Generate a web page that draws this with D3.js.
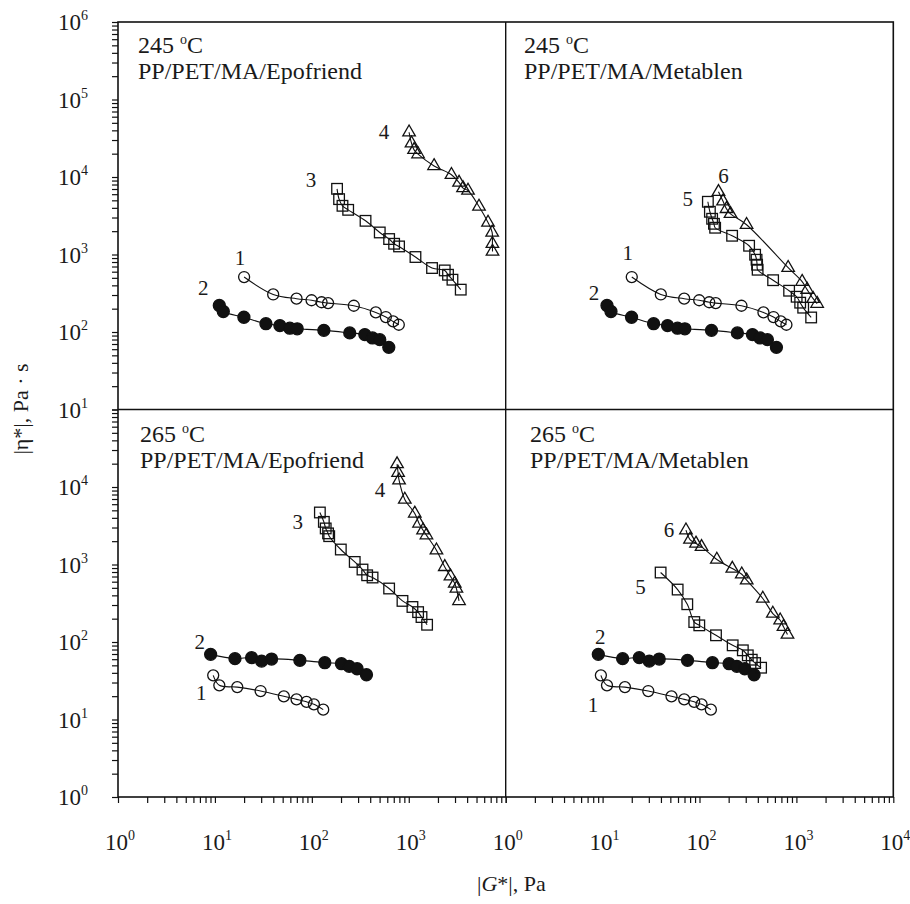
<!DOCTYPE html>
<html>
<head>
<meta charset="utf-8">
<script src="https://cdn.jsdelivr.net/npm/d3@7"></script>
<style>
  body { margin: 0; background: #fff; }
  svg text { font-family: "Liberation Serif", "Times New Roman", serif; fill: #1a1a1a; }
</style>
</head>
<body>
<svg id="chart" width="910" height="904"></svg>
<script>
// 245 C, curves 1 and 2 (same in both top panels)
const g245c1 = [20.0, 39.9, 69.5, 99.3, 126, 147, 271, 457, 580, 689, 789];
const eta245c1 = [512, 305, 269, 257, 242, 236, 218, 179, 156, 137, 124];
const g245c2 = [11.1, 12.2, 19.9, 33.6, 46.8, 59.3, 70.6, 133, 246, 352, 422, 502, 622];
const eta245c2 = [220, 184, 155, 128, 121, 112, 110, 105, 97.3, 92.6, 83.8, 79.7, 63.4];
// 245 C, Epofriend
const g245c3 = [182, 191, 207, 237, 358, 502, 627, 706, 794, 1172, 1738, 2350, 2540, 2822, 3437];
const eta245c3 = [7040, 5180, 4250, 3770, 2720, 1925, 1583, 1376, 1271, 928, 669, 623, 548, 473, 352];
const g245c4 = [1007, 1067, 1135, 1247, 1824, 2756, 3302, 3630, 4085, 5304, 6571, 7250, 7290, 7310];
const eta245c4 = [37800, 27300, 22400, 19700, 13900, 10700, 8480, 7190, 6690, 4170, 2590, 1925, 1376, 1095];
// 245 C, Metablen
const g245c5 = [122, 128, 135, 141, 145, 217, 325, 375, 388, 393, 398, 575, 841, 1006, 1094, 1175, 1420];
const eta245c5 = [4790, 3560, 2890, 2490, 2215, 1745, 1297, 993, 856, 738, 636, 466, 341, 285, 239, 206, 154];
const g245c6 = [157, 175, 190, 209, 306, 822, 1146, 1291, 1489, 1637];
const eta245c6 = [6440, 4850, 3880, 3350, 2420, 675, 446, 352, 269, 232];

// 265 C, curves 1 and 2
const g265c1 = [9.6, 11.1, 17.0, 29.6, 51.4, 69.5, 88.1, 105, 131];
const eta265c1 = [37.1, 27.6, 26.2, 23.3, 19.9, 18.2, 16.9, 15.7, 13.4];
const g265c2 = [9.03, 16.1, 23.9, 30.3, 38.4, 75.2, 136, 202, 243, 293, 366];
const eta265c2 = [69.3, 61.0, 62.8, 56.7, 60.3, 58.0, 54.1, 52.5, 48.5, 45.2, 37.8];
// 265 C, Epofriend
const g265c3 = [121, 133, 139, 147, 151, 199, 277, 333, 372, 423, 627, 861, 1091, 1248, 1353, 1545];
const eta265c3 = [4690, 3550, 2920, 2520, 2320, 1561, 1079, 861, 726, 679, 490, 339, 283, 243, 210, 167];
const g265c4 = [757, 776, 794, 910, 1153, 1277, 1404, 1521, 1930, 2352, 2692, 2980, 3100, 3300];
const eta265c4 = [19750, 15260, 12230, 6910, 4560, 3390, 2770, 2390, 1529, 931, 705, 567, 490, 339];
// 265 C, Metablen
const g265c5 = [39.7, 59.5, 74.8, 88.3, 99.5, 148, 220, 280, 315, 346, 375, 432];
const eta265c5 = [788, 475, 307, 181, 164, 122, 90.6, 78.1, 67.3, 59.1, 53.5, 46.6];
const g265c6 = [72.5, 79.8, 92, 105, 151, 218, 273, 307, 450, 571, 680, 736, 809];
const eta265c6 = [2770, 2100, 1870, 1690, 1160, 887, 749, 627, 364, 233, 191, 157, 125];

// tick label exponents
const yTopExps = [6, 5, 4, 3, 2, 1];
const yBotExps = [4, 3, 2, 1, 0];
const xLeftExps = [0, 1, 2, 3];
const xRightExps = [0, 1, 2, 3, 4];

const svg = d3.select('#chart');
const ink = '#111';

// frame
const L = 118, M = 505.7, R = 893.3, T = 22, H = 409.5, B = 797;

const xLeft = d3.scaleLog().domain([1, 1e4]).range([L, M]);
const xRight = d3.scaleLog().domain([1, 1e4]).range([M, R]);
const yTop = d3.scaleLog().domain([10, 1e6]).range([H, T]);
const yBot = d3.scaleLog().domain([1, 1e5]).range([B, H]);

function logTicks(lo, hi) {
    var v = [];
    for (let e = lo; e < hi; e++)
        for (let k = 1; k < 10; k++) v.push(k * Math.pow(10, e));
    v.push(Math.pow(10, hi));
    return v;
}

function tickAxis(axis, tr) {
    var g = svg.append('g').attr('transform', tr)
        .call(axis.tickSize(6).tickSizeOuter(0).tickFormat(''));
    g.select('.domain').remove();
    g.selectAll('.tick line').attr('stroke', ink).attr('stroke-width', 1.2);
}

tickAxis(d3.axisLeft(yTop).tickValues(logTicks(1, 6)), `translate(${L},0)`);
tickAxis(d3.axisLeft(yBot).tickValues(logTicks(0, 5)), `translate(${L},0)`);
tickAxis(d3.axisBottom(xLeft).tickValues(logTicks(0, 4)), `translate(0,${B})`);
tickAxis(d3.axisBottom(xRight).tickValues(logTicks(0, 4)), `translate(0,${B})`);

// box and dividers
svg.append('rect').attr('x', L).attr('y', T).attr('width', R - L).attr('height', B - T)
    .attr('fill', 'none').attr('stroke', ink).attr('stroke-width', 1.6);
svg.append('line').attr('x1', M).attr('x2', M).attr('y1', T).attr('y2', B)
    .attr('stroke', ink).attr('stroke-width', 1.4);
svg.append('line').attr('x1', L).attr('x2', R).attr('y1', H).attr('y2', H)
    .attr('stroke', ink).attr('stroke-width', 1.4);

function pow10(x, y, e, anchor) {
    var t = svg.append('text').attr('x', x).attr('y', y)
        .attr('text-anchor', anchor).style('font-size', '23px');
    t.append('tspan').text('10');
    t.append('tspan').attr('dy', -10).style('font-size', '14px').text(e);
}

yTopExps.forEach(e => pow10(88, yTop(Math.pow(10, e)) + 8, e, 'end'));
yBotExps.forEach(e => pow10(88, yBot(Math.pow(10, e)) + 8, e, 'end'));
xLeftExps.forEach(e => pow10(xLeft(Math.pow(10, e)) + 2, 850, e, 'middle'));
xRightExps.forEach(e => pow10(xRight(Math.pow(10, e)) + 2, 850, e, 'middle'));

// axis titles
svg.append('text')
    .attr('transform', 'translate(28,409) rotate(-90)')
    .attr('text-anchor', 'middle')
    .style('font-size', '22px')
    .text('|η*|, Pa · s');

var xt = svg.append('text').attr('x', 477).attr('y', 891).style('font-size', '22px');
xt.append('tspan').text('|');
xt.append('tspan').style('font-style', 'italic').text('G');
xt.append('tspan').text('*|, Pa');

// panels
const panels = [
    { x: xLeft, y: yTop, temp: '245', name: 'PP/PET/MA/Epofriend', tx: 138, ty: 53,
      series: [
        { g: g245c1, eta: eta245c1, mark: 'open', label: '1', dx: -4, dy: -19 },
        { g: g245c2, eta: eta245c2, mark: 'fill', label: '2', dx: -16, dy: -18 },
        { g: g245c3, eta: eta245c3, mark: 'square', label: '3', dx: -26, dy: -9 },
        { g: g245c4, eta: eta245c4, mark: 'tri', label: '4', dx: -25, dy: -1 }
      ] },
    { x: xRight, y: yTop, temp: '245', name: 'PP/PET/MA/Metablen', tx: 524, ty: 53,
      series: [
        { g: g245c1, eta: eta245c1, mark: 'open', label: '1', dx: -4, dy: -24 },
        { g: g245c2, eta: eta245c2, mark: 'fill', label: '2', dx: -13, dy: -13 },
        { g: g245c5, eta: eta245c5, mark: 'square', label: '5', dx: -20, dy: -3 },
        { g: g245c6, eta: eta245c6, mark: 'tri', label: '6', dx: 5, dy: -16 }
      ] },
    { x: xLeft, y: yBot, temp: '265', name: 'PP/PET/MA/Epofriend', tx: 140, ty: 442,
      series: [
        { g: g265c1, eta: eta265c1, mark: 'open', label: '1', dx: -12, dy: 17 },
        { g: g265c2, eta: eta265c2, mark: 'fill', label: '2', dx: -11, dy: -13 },
        { g: g265c3, eta: eta265c3, mark: 'square', label: '3', dx: -22, dy: 9 },
        { g: g265c4, eta: eta265c4, mark: 'tri', label: '4', dx: -17, dy: 26 }
      ] },
    { x: xRight, y: yBot, temp: '265', name: 'PP/PET/MA/Metablen', tx: 530, ty: 442,
      series: [
        { g: g265c1, eta: eta265c1, mark: 'open', label: '1', dx: -8, dy: 29 },
        { g: g265c2, eta: eta265c2, mark: 'fill', label: '2', dx: 2, dy: -18 },
        { g: g265c5, eta: eta265c5, mark: 'square', label: '5', dx: -20, dy: 14 },
        { g: g265c6, eta: eta265c6, mark: 'tri', label: '6', dx: -17, dy: -1 }
      ] }
];

var line = d3.line().curve(d3.curveCatmullRom.alpha(0.5));
var triangle = d3.symbol().type(d3.symbolTriangle).size(68);

panels.forEach(function(p) {
    var g = svg.append('g');

    var title = g.append('text').attr('x', p.tx).attr('y', p.ty).style('font-size', '24px');
    title.append('tspan').text(p.temp + ' ');
    title.append('tspan').attr('dy', -9).style('font-size', '14px').text('o');
    title.append('tspan').attr('dy', 9).text('C');
    g.append('text').attr('x', p.tx).attr('y', p.ty + 26).style('font-size', '24px').text(p.name);

    p.series.forEach(function(s) {
        var pts = s.g.map((v, i) => [p.x(v), p.y(s.eta[i])]);

        g.append('path')
            .attr('d', line(pts))
            .attr('fill', 'none')
            .attr('stroke', ink)
            .attr('stroke-width', 1.1);

        var m = g.append('g').selectAll('.m').data(pts).enter();
        if (s.mark === 'open' || s.mark === 'fill') {
            m.append('circle')
                .attr('cx', d => d[0]).attr('cy', d => d[1])
                .attr('r', s.mark === 'fill' ? 6 : 5.5)
                .attr('fill', s.mark === 'fill' ? ink : 'none')
                .attr('stroke', ink).attr('stroke-width', 1.3);
        } else if (s.mark === 'square') {
            m.append('rect')
                .attr('x', d => d[0] - 5.3).attr('y', d => d[1] - 5.3)
                .attr('width', 10.6).attr('height', 10.6)
                .attr('fill', 'none').attr('stroke', ink).attr('stroke-width', 1.3);
        } else {
            m.append('path')
                .attr('d', triangle)
                .attr('transform', d => `translate(${d[0]},${d[1]})`)
                .attr('fill', 'none').attr('stroke', ink).attr('stroke-width', 1.3);
        }

        g.append('text')
            .attr('x', pts[0][0] + s.dx)
            .attr('y', pts[0][1] + s.dy)
            .attr('dy', '0.35em')
            .attr('text-anchor', 'middle')
            .style('font-size', '21px')
            .text(s.label);
    });
});
</script>
</body>
</html>
